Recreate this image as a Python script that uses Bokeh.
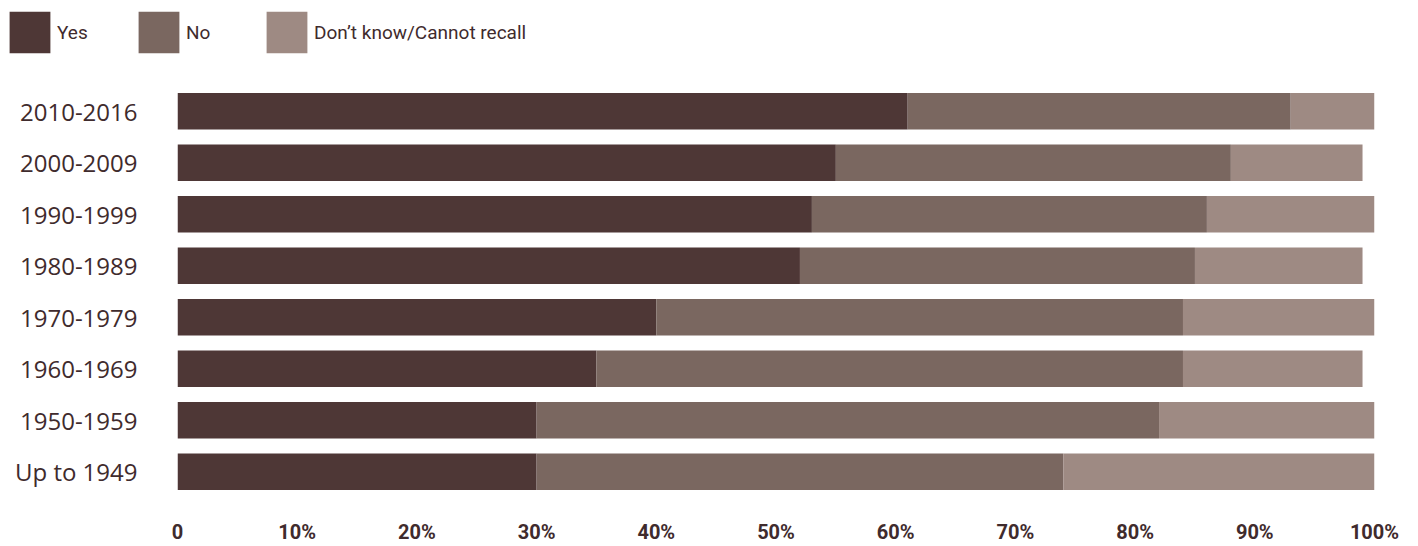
from bokeh.plotting import figure
from bokeh.layouts import column
from bokeh.models import FactorRange, Range1d, FixedTicker, Legend, LegendItem, ColumnDataSource
from bokeh.embed import file_html
from bokeh.resources import INLINE

categories = ["2010-2016", "2000-2009", "1990-1999", "1980-1989",
              "1970-1979", "1960-1969", "1950-1959", "Up to 1949"]
yes = [61, 55, 53, 52, 40, 35, 30, 30]
no = [32, 33, 33, 33, 44, 49, 52, 44]
dont_know = [7, 11, 14, 14, 16, 15, 18, 26]
series_names = ["Yes", "No", "Don\u2019t know/Cannot recall"]
tick_values = [0, 10, 20, 30, 40, 50, 60, 70, 80, 90, 100]
tick_labels = ["0", "10%", "20%", "30%", "40%", "50%", "60%", "70%", "80%", "90%", "100%"]

colors = ["#4e3736", "#7a6760", "#9e8a83"]
text_color = "#3f2b2d"

source = ColumnDataSource(dict(cat=categories, yes=yes, no=no, dk=dont_know))

# ---------- legend strip (its own frame spans the whole strip) ----------
leg = figure(width=1418, height=85, output_backend="svg", toolbar_location=None,
             x_range=Range1d(-2, -1),
             y_range=FactorRange(factors=list(reversed(categories))),
             x_axis_location=None, y_axis_location=None,
             min_border_left=0, min_border_right=0, min_border_top=0, min_border_bottom=0)
leg.frame_align = False
leg.outline_line_color = None
leg.grid.visible = False
leg_rs = leg.hbar_stack(["yes", "no", "dk"], y="cat", height=0.713, color=colors,
                        source=source, line_color=None)
legend_x = [4, 133, 261]
for r, name, lx in zip(leg_rs, series_names, legend_x):
    lg = Legend(items=[LegendItem(label=name, renderers=[r])], location=(lx, 27),
                orientation="horizontal", glyph_width=51, glyph_height=52,
                label_standoff=2, padding=0, margin=0, spacing=0,
                border_line_color=None, background_fill_alpha=0,
                label_text_font="Roboto", label_text_font_size="19px",
                label_text_color=text_color, label_text_baseline="middle",
                label_height=52)
    leg.add_layout(lg, "center")

# ---------- main chart ----------
p = figure(width=1418, height=461, output_backend="svg", toolbar_location=None,
           y_range=FactorRange(factors=list(reversed(categories)), range_padding=0),
           x_range=Range1d(0, 100),
           min_border_left=177, min_border_right=44, min_border_top=0, min_border_bottom=46)
p.frame_align = False

rs = p.hbar_stack(["yes", "no", "dk"], y="cat", height=0.713, color=colors,
                  source=source, line_color=None)

p.outline_line_color = None
p.grid.visible = False

xa = p.xaxis[0]
xa.ticker = FixedTicker(ticks=tick_values)
xa.major_label_overrides = {v: l for v, l in zip(tick_values, tick_labels)}
xa.axis_line_color = None
xa.major_tick_line_color = None
xa.minor_tick_line_color = None
xa.major_tick_out = 0
xa.major_tick_in = 0
xa.major_label_standoff = 22
xa.major_label_text_font = "Roboto"
xa.major_label_text_font_style = "bold"
xa.major_label_text_font_size = "20px"
xa.major_label_text_color = text_color

ya = p.yaxis[0]
ya.axis_line_color = None
ya.major_tick_line_color = None
ya.minor_tick_line_color = None
ya.major_tick_out = 0
ya.major_tick_in = 0
ya.major_label_standoff = 40
ya.major_label_text_font = "Open Sans"
ya.major_label_text_font_size = "24px"
ya.major_label_text_color = text_color

layout = column(leg, p, spacing=0)
open("out.html", "w").write(file_html(layout, INLINE))
